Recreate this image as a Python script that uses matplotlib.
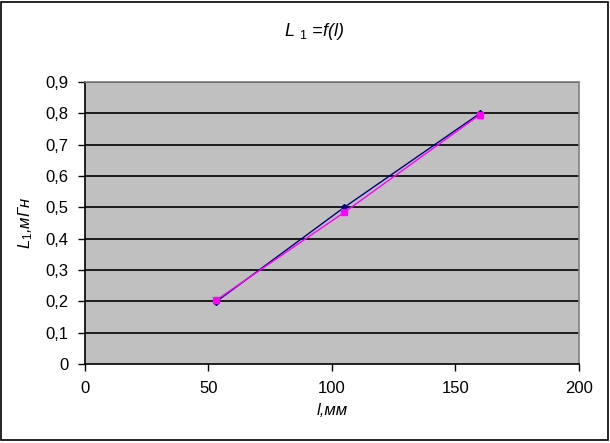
import matplotlib
matplotlib.use('Agg')
import matplotlib.pyplot as plt
from matplotlib.patches import Rectangle

plt.rcParams['font.family'] = ['Liberation Sans', 'DejaVu Sans']
plt.rcParams['mathtext.fontset'] = 'custom'
plt.rcParams['mathtext.rm'] = 'Liberation Sans'
plt.rcParams['mathtext.it'] = 'Liberation Sans:italic'

l_mm = [53, 105, 160]
L1_a = [0.198, 0.500, 0.800]
L1_b = [0.203, 0.484, 0.796]
x_ticks = [0, 50, 100, 150, 200]
y_ticks = [0, 0.1, 0.2, 0.3, 0.4, 0.5, 0.6, 0.7, 0.8, 0.9]
y_labels = ['0', '0,1', '0,2', '0,3', '0,4', '0,5', '0,6', '0,7', '0,8', '0,9']

fig = plt.figure(figsize=(6.1, 4.43), dpi=100)
fig.patches.append(Rectangle((0.002, 0.006), 0.994, 0.99, transform=fig.transFigure,
                             fill=False, edgecolor='black', linewidth=1.2))

ax = fig.add_axes([0.1393, 0.1783, 0.8095, 0.6366])
ax.set_facecolor('#c0c0c0')

for y in y_ticks[1:]:
    ax.axhline(y, color='black', linewidth=1.2, zorder=1)

ax.plot(l_mm, L1_a, color='#000080', linewidth=1, marker='D', markersize=3, zorder=3)
ax.plot(l_mm, L1_b, color='#ff00ff', linewidth=1, marker='s', markersize=5, zorder=4)

ax.set_xlim(0, 200)
ax.set_ylim(0, 0.9)
ax.set_xticks(x_ticks)
ax.set_yticks(y_ticks)
ax.set_yticklabels(y_labels)
ax.tick_params(direction='out', length=5, width=1, labelsize=12, pad=7)

ax.spines['left'].set_color('black')
ax.spines['bottom'].set_color('black')
ax.spines['top'].set_color('#808080')
ax.spines['right'].set_color('#808080')
for s in ax.spines.values():
    s.set_linewidth(1.2)

ax.set_xlabel('l,мм', fontsize=12, style='italic', labelpad=5)
ax.set_ylabel(r'$\mathit{L}_{\mathit{1}}$,мГн', fontsize=12, style='italic', labelpad=7)
fig.text(0.515, 0.93, r'$\mathit{L}$ $_{\mathit{1}}$ =f(l)', fontsize=13, style='italic',
         ha='center', va='center')

fig.savefig('out.png', dpi=100)
